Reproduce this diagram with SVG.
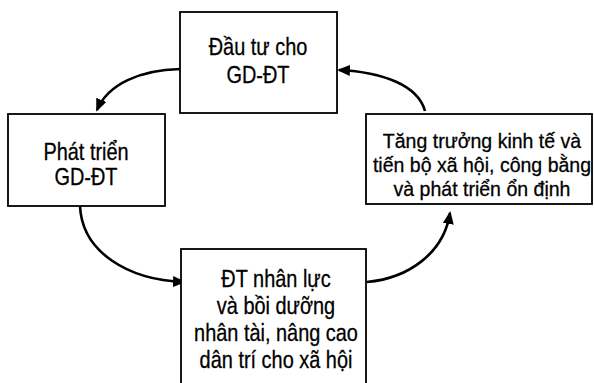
<svg xmlns="http://www.w3.org/2000/svg" width="594" height="383" viewBox="0 0 594 383">
<style>
.box{fill:#fff;stroke:#000;stroke-width:1.8}
.t{font-family:"Liberation Sans",Arial,sans-serif;font-size:24px;text-anchor:middle;fill:#000;stroke:#000;stroke-width:0.3}
.s{font-size:21px}
.c{fill:none;stroke:#000;stroke-width:2.6}
</style>
<defs>
<marker id="ah" markerUnits="userSpaceOnUse" markerWidth="14" markerHeight="12" refX="11" refY="5.5" orient="auto">
<path d="M0,0 L13,5.5 L0,11 z" fill="#000"/>
</marker>
</defs>
<rect width="594" height="383" fill="#fff"/>
<g id="connectors">
<path class="c" d="M180,69 C140,70 108,84 97,110" marker-end="url(#ah)"/>
<path class="c" d="M80,206 C82,252 128,280 184,282" marker-end="url(#ah)"/>
<path class="c" d="M367,282 C410,278 444,252 450,213" marker-end="url(#ah)"/>
<path class="c" d="M425,111 C418,85 382,72 339,70" marker-end="url(#ah)"/>
</g>
<g id="n-dautu">
<rect class="box" x="180" y="12" width="157" height="101"/>
<g transform="translate(258 0) scale(0.83 1)">
<text class="t" x="0" y="55">Đầu tư cho</text>
<text class="t" x="0" y="83">GD-ĐT</text>
</g>
</g>
<g id="n-phattrien">
<rect class="box" x="8" y="114" width="157" height="92"/>
<g transform="translate(86 0) scale(0.83 1)">
<text class="t" x="0" y="160">Phát triển</text>
<text class="t" x="0" y="185">GD-ĐT</text>
</g>
</g>
<g id="n-tangtruong">
<rect class="box" x="366" y="114" width="226" height="90"/>
<g transform="translate(482 0) scale(0.93 1)">
<text class="t s" x="0" y="148">Tăng trưởng kinh tế và</text>
<text class="t s" x="0" y="172">tiến bộ xã hội, công bằng</text>
<text class="t s" x="0" y="196">và phát triển ổn định</text>
</g>
</g>
<g id="n-dtnhanluc">
<rect class="box" x="181" y="249" width="185" height="150"/>
<g transform="translate(276 0) scale(0.83 1)">
<text class="t" x="0" y="287">ĐT nhân lực</text>
<text class="t" x="0" y="314">và bồi dưỡng</text>
<text class="t" x="0" y="341">nhân tài, nâng cao</text>
<text class="t" x="0" y="368">dân trí cho xã hội</text>
</g>
</g>
</svg>
